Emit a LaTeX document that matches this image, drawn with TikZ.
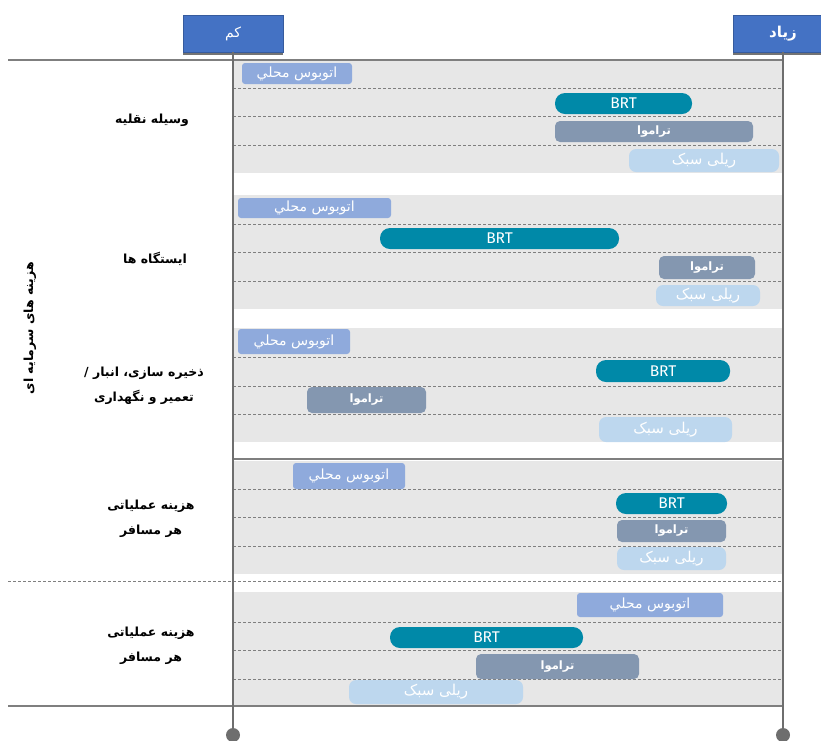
\documentclass[tikz,border=0pt]{standalone}
\usepackage{fontspec}
\setmainfont{Fira Sans}
\newfontfamily\fa[Script=Arabic]{DejaVu Sans}
\TeXXeTstate=1
\usetikzlibrary{shadows}
\definecolor{hdrblue}{HTML}{4472C4}
\definecolor{bandc}{HTML}{E7E7E7}
\definecolor{linec}{HTML}{7F7F7F}
\definecolor{axisc}{HTML}{6E6E6E}
\definecolor{busc}{HTML}{8FAADC}
\definecolor{brtc}{HTML}{0089A8}
\definecolor{tramc}{HTML}{8497B0}
\definecolor{lrtc}{HTML}{BDD7EE}
\tikzset{
  hdr/.style={fill=hdrblue, draw=hdrblue!80!black, line width=0.6pt, text=white, minimum width=100pt, minimum height=37pt, inner sep=0pt,
    drop shadow={shadow xshift=0pt, shadow yshift=-2.5pt, fill=black!55, opacity=1}},
  barbase/.style={inner sep=0pt, text=white},
  busbar/.style={barbase, fill=busc, rounded corners=3pt, font=\fa\fontsize{14}{16}\selectfont},
  brtbar/.style={barbase, fill=brtc, rounded corners=10pt, font=\fontsize{15.5}{17}\selectfont},
  trambar/.style={barbase, fill=tramc, rounded corners=5pt, font=\fa\bfseries\fontsize{11.5}{13}\selectfont},
  lrtbar/.style={barbase, fill=lrtc, rounded corners=7pt, font=\fa\fontsize{15}{17}\selectfont},
  rowlabel/.style={font=\fa\bfseries\fontsize{12.5}{25}\selectfont, align=center, text=black},
  rowsep/.style={draw=linec, line width=0.9pt, dash pattern=on 3pt off 2pt},
  solidline/.style={draw=linec, line width=1.5pt},
  axisline/.style={draw=axisc, line width=2pt},
}
\newcommand\mkbar[7]{\node[#2, minimum width={#5pt-#3pt}, minimum height={#6pt-#4pt}] (#1) at ({(#3+#5)/2},{(#4+#6)/2}) {#7};}
\begin{document}
\begin{tikzpicture}[x=1pt,y=-1pt]
\useasboundingbox (0,0) rectangle (821,740);
% bands
\foreach \t/\b in {60/173,195/309,328/442,461/574,592/706}{
  \fill[bandc] (233,\t) rectangle (783,\b);
}
% row separators
\foreach \y in {88,116,145,224,252,281,357,386,414,489,517,546,622,650,679}{
  \draw[rowsep] (233,\y) -- (783,\y);
}
% horizontal lines
\draw[solidline] (8,60) -- (783,60);
\draw[solidline] (233,459) -- (783,459);
\draw[solidline] (8,706) -- (783,706);
\draw[rowsep] (8,581) -- (783,581);
% headers and axes
\coordinate (lowend) at (233,735);
\coordinate (highend) at (783,735);
\node[hdr, font=\fa\fontsize{14}{16}\selectfont] (low) at (233,33.5) {\beginR کم\endR};
\node[hdr, font=\fa\bfseries\fontsize{15}{17}\selectfont] (high) at (783,33.5) {\beginR زیاد\endR};
\draw[axisline] (low.south -| lowend) -- (lowend);
\draw[axisline] (high.south -| highend) -- (highend);
\fill[axisc] (lowend) circle (7);
\fill[axisc] (highend) circle (7);
% bars band 1
\mkbar{b1bus}{busbar}{242}{63}{352}{84}{\beginR اتوبوس محلي\endR}
\mkbar{b1brt}{brtbar}{555}{93}{692}{114}{BRT}
\mkbar{b1tram}{trambar}{555}{121}{753}{142}{\beginR تراموا\endR}
\mkbar{b1lrt}{lrtbar}{629}{149}{779}{172}{\beginR ریلی سبک\endR}
% band 2
\mkbar{b2bus}{busbar}{238}{198}{391}{218}{\beginR اتوبوس محلي\endR}
\mkbar{b2brt}{brtbar}{380}{228}{619}{249}{BRT}
\mkbar{b2tram}{trambar}{659}{256}{755}{279}{\beginR تراموا\endR}
\mkbar{b2lrt}{lrtbar}{656}{285}{760}{306}{\beginR ریلی سبک\endR}
% band 3
\mkbar{b3bus}{busbar}{238}{329}{350}{354}{\beginR اتوبوس محلي\endR}
\mkbar{b3brt}{brtbar}{596}{360}{730}{382}{BRT}
\mkbar{b3tram}{trambar}{307}{387}{426}{413}{\beginR تراموا\endR}
\mkbar{b3lrt}{lrtbar}{599}{417}{732}{442}{\beginR ریلی سبک\endR}
% band 4
\mkbar{b4bus}{busbar}{293}{463}{405}{489}{\beginR اتوبوس محلي\endR}
\mkbar{b4brt}{brtbar}{616}{493}{727}{514}{BRT}
\mkbar{b4tram}{trambar}{617}{520}{726}{542}{\beginR تراموا\endR}
\mkbar{b4lrt}{lrtbar}{617}{547}{726}{570}{\beginR ریلی سبک\endR}
% band 5
\mkbar{b5bus}{busbar}{577}{593}{723}{617}{\beginR اتوبوس محلي\endR}
\mkbar{b5brt}{brtbar}{390}{627}{583}{648}{BRT}
\mkbar{b5tram}{trambar}{476}{654}{639}{679}{\beginR تراموا\endR}
\mkbar{b5lrt}{lrtbar}{349}{680}{523}{704}{\beginR ریلی سبک\endR}
% row labels
\node[rowlabel] (l1) at (152,120) {\beginR وسیله نقلیه\endR};
\node[rowlabel] (l2) at (155,259) {\beginR ایستگاه ها\endR};
\node[rowlabel] (l3) at (144,386) {\beginR ذخیره سازی، انبار /\endR\\\beginR تعمیر و نگهداری\endR};
\node[rowlabel] (l4) at (151,519) {\beginR هزینه عملیاتی\endR\\\beginR هر مسافر\endR};
\node[rowlabel] (l5) at (151,646) {\beginR هزینه عملیاتی\endR\\\beginR هر مسافر\endR};
\node[rowlabel, rotate=90] (cap) at (30,328) {\beginR هزینه های سرمایه ای\endR};
\end{tikzpicture}
\end{document}
